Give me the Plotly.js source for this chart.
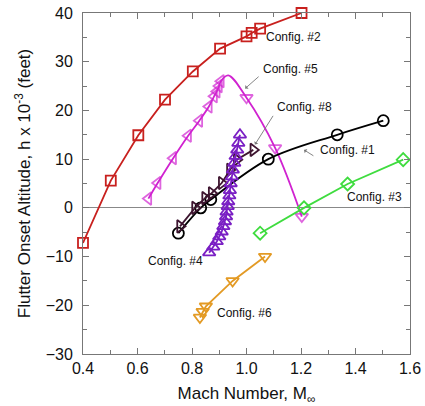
<!DOCTYPE html>
<html>
<head>
<meta charset="utf-8">
<script src="https://cdn.plot.ly/plotly-3.0.1.min.js"></script>
<style>html,body{margin:0;padding:0;background:#fff;}#chart{width:425px;height:406px;}</style>
</head>
<body>
<div id="chart"></div>
<script>
// Config #2 (red squares)
const c2Mach = [0.40, 0.502, 0.603, 0.701, 0.803, 0.903, 1.000, 1.019, 1.050, 1.202];
const c2Alt  = [-7.2, 5.6, 14.9, 22.2, 28.0, 32.7, 35.2, 35.9, 36.8, 40.0];
// Config #5 (magenta triangles; peak vertex has no marker)
const c5Mach = [0.640, 0.674, 0.731, 0.786, 0.827, 0.862, 0.881, 0.891, 0.899, 0.906, 0.933, 1.000, 1.105, 1.203];
const c5Alt  = [1.9, 5.1, 10.2, 14.8, 17.9, 20.8, 22.9, 23.9, 25.0, 26.0, 27.2, 22.6, 12.3, -1.8];
const c5Marked = [1,1,1,1,1,1,1,1,1,1,0,1,1,1];
const c5Down   = [0,0,0,0,0,0,0,0,0,0,0,1,1,1];
// Config #8 (dark triangles)
const c8Mach = [0.756, 0.811, 0.848, 0.872, 0.909, 0.939, 0.964, 1.025];
const c8Alt  = [-3.8, 0.0, 2.0, 3.0, 5.1, 7.8, 9.9, 11.9];
// Config #1 (black circles)
const c1Mach = [0.750, 0.832, 0.869, 1.080, 1.333, 1.502];
const c1Alt  = [-5.2, 0.0, 1.7, 10.0, 15.0, 17.9];
// Config #4 (purple triangles)
const c4Mach = [0.863, 0.878, 0.891, 0.900, 0.909, 0.915, 0.921, 0.925, 0.927, 0.931, 0.933, 0.937, 0.939, 0.942, 0.946, 0.950, 0.955, 0.960, 0.966, 0.970, 0.976];
const c4Alt  = [-9.2, -8.0, -6.9, -5.9, -4.9, -3.8, -2.8, -1.8, -0.8, 0.3, 1.3, 2.5, 3.6, 5.0, 6.4, 7.8, 9.2, 10.6, 11.9, 13.3, 15.0];
// Config #3 (green diamonds)
const c3Mach = [1.050, 1.211, 1.371, 1.575];
const c3Alt  = [-5.2, 0.0, 4.9, 9.9];
// Config #6 (orange triangles)
const c6Mach = [0.829, 0.839, 0.851, 0.949, 1.068];
const c6Alt  = [-22.5, -21.3, -20.2, -15.0, -10.0];

const labels = ["Config. #2","Config. #5","Config. #8","Config. #1","Config. #3","Config. #4","Config. #6"];
const xTicks = [0.4, 0.6, 0.8, 1.0, 1.2, 1.4, 1.6];
const xTickText = ["0.4","0.6","0.8","1.0","1.2","1.4","1.6"];

function tr(x, y, color, symbol, size, shape) {
  return {
    x: x, y: y, type: 'scatter', mode: 'lines+markers', cliponaxis: false,
    line: {color: color, width: 1.8, shape: shape || 'linear', smoothing: 1},
    marker: {symbol: symbol, size: size, color: color, line: {color: color, width: 1.8}},
    hoverinfo: 'none'
  };
}

const data = [
  tr(c2Mach, c2Alt, '#c8201e', 'square-open', 10),
  tr(c5Mach, c5Alt, '#d022d0', c5Down.map(d => d ? 'triangle-down-open' : 'triangle-left-open'),
     c5Marked.map(m => m ? 11 : 0), 'spline'),
  tr(c1Mach, c1Alt, '#000000', 'circle-open', 11, 'spline'),
  tr(c8Mach, c8Alt, '#3e1530', 'triangle-right-open', 11),
  tr(c4Mach, c4Alt, '#7a1fc4', 'triangle-up-open', 11),
  tr(c3Mach, c3Alt, '#3fdc3f', 'diamond-open', 10),
  tr(c6Mach, c6Alt, '#e39a24', 'triangle-down-open', 11)
];

const txtFont = {family: 'Liberation Sans, Arial, sans-serif', size: 12, color: '#111'};
const labelPos = [[1.064, 35.0],[1.053, 28.5],[1.105, 20.7],[1.262, 11.9],[1.361, 2.2],[0.631, -11.0],[0.884, -21.5]];
const annotations = labels.map((t, i) => ({
  text: t, x: labelPos[i][0], y: labelPos[i][1], xref: 'x', yref: 'y',
  xanchor: 'left', yanchor: 'middle', showarrow: false, font: txtFont
}));
const arrows = [[0.995, 24.5, 1.050, 27.2],[1.031, 13.0, 1.101, 19.2],[1.211, 11.9, 1.251, 10.5]];
arrows.forEach(a => annotations.push({
  x: a[0], y: a[1], ax: a[2], ay: a[3], xref: 'x', yref: 'y', axref: 'x', ayref: 'y',
  text: '', showarrow: true, arrowhead: 1, arrowsize: 0.9, arrowwidth: 0.9, arrowcolor: '#777', standoff: 0
}));

const axFont = {family: 'Liberation Sans, Arial, sans-serif', size: 16, color: '#111'};
const layout = {
  width: 425, height: 406,
  margin: {l: 83, r: 15, t: 13, b: 52},
  paper_bgcolor: '#fff', plot_bgcolor: '#fff',
  showlegend: false,
  font: axFont,
  xaxis: {
    range: [0.4, 1.6], tickvals: xTicks, ticktext: xTickText,
    ticks: 'inside', ticklen: 6, tickcolor: '#777', tickwidth: 1,
    minor: {dtick: 0.1, ticks: 'inside', ticklen: 4, tickcolor: '#777'},
    showline: true, linecolor: '#777', linewidth: 1, mirror: 'allticks',
    showgrid: false, zeroline: false, tickfont: axFont,
    title: {text: 'Mach Number, M<sub>\u221e</sub>', font: {family: 'Liberation Sans, Arial, sans-serif', size: 17, color: '#111'}, standoff: 12}
  },
  yaxis: {
    range: [-30, 40], dtick: 10,
    ticks: 'inside', ticklen: 6, tickcolor: '#777', tickwidth: 1,
    minor: {dtick: 5, ticks: 'inside', ticklen: 4, tickcolor: '#777'},
    showline: true, linecolor: '#777', linewidth: 1, mirror: 'allticks',
    showgrid: false, zeroline: true, zerolinecolor: '#888', zerolinewidth: 1,
    tickfont: axFont, ticklabelstandoff: 6,
    title: {text: 'Flutter Onset Altitude, h x 10<sup>-3</sup> (feet)', font: {family: 'Liberation Sans, Arial, sans-serif', size: 17, color: '#111'}, standoff: 10}
  },
  annotations: annotations
};

Plotly.newPlot('chart', data, layout, {staticPlot: true, displayModeBar: false});
</script>
</body>
</html>
